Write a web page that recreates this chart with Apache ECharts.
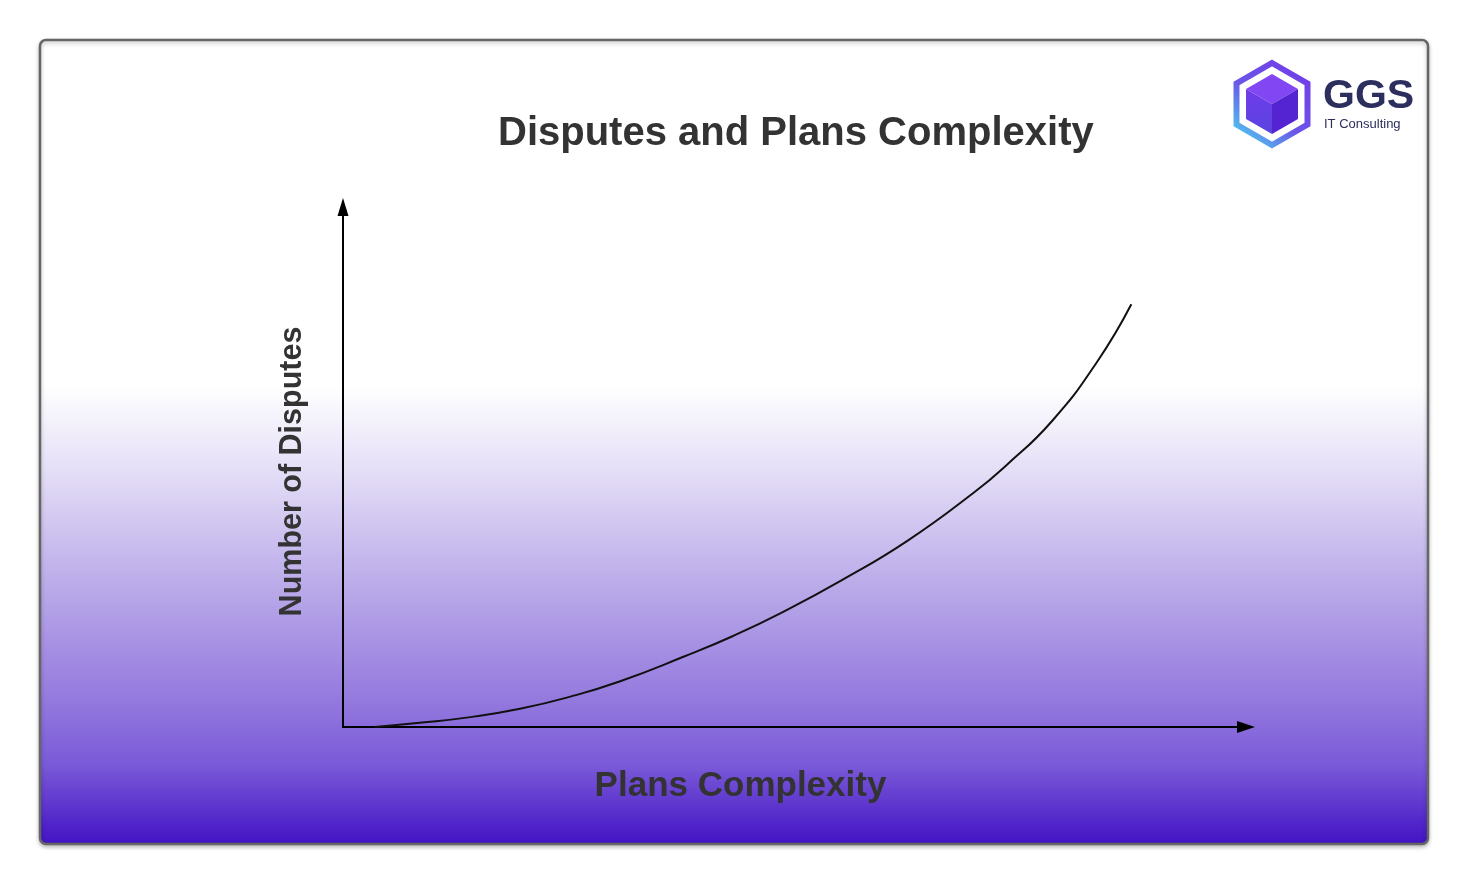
<!DOCTYPE html>
<html>
<head>
<meta charset="utf-8">
<script src="https://cdn.jsdelivr.net/npm/echarts@6/dist/echarts.min.js"></script>
<style>html,body{margin:0;padding:0;background:#fff}#c{width:1472px;height:883px}</style>
</head>
<body>
<div id="c"></div>
<script>
var titleText = 'Disputes and Plans Complexity';
var xAxisName = 'Plans Complexity';
var yAxisName = 'Number of Disputes';
var complexity = [3.5, 8.5, 14.1, 19.6, 25.1, 30.7, 37.7, 43.2, 48.7, 55.3, 62.5, 69.8, 73.5, 78.5, 83.5, 87.3];
var disputes   = [0, 0.8, 1.9, 3.5, 5.8, 8.8, 13.5, 17.5, 22.1, 28.3, 35.8, 45.0, 50.4, 58.8, 70.2, 81.3];
var logoMain = 'GGS';
var logoSub = 'IT Consulting';

var chart = echarts.init(document.getElementById('c'), null, {renderer: 'canvas'});
var pts = complexity.map(function (x, i) { return [x, disputes[i]]; });

function hex(cx, cy, r) {
  var p = [];
  for (var k = 0; k < 6; k++) {
    var a = (-90 + 60 * k) * Math.PI / 180;
    p.push([cx + r * Math.cos(a), cy + r * Math.sin(a)]);
  }
  return p;
}
var cx = 1272, cy = 104;
var h = hex(cx, cy, 30);
var c0 = [cx, cy];

chart.setOption({
  animation: false,
  title: {
    text: titleText,
    left: 493, top: 109,
    textStyle: {fontFamily: 'Liberation Sans, Arial, sans-serif', fontSize: 40, fontWeight: 'bold', color: '#333333'}
  },
  grid: {left: 343, right: 226, top: 207, bottom: 156},
  xAxis: {
    type: 'value', min: 0, max: 100,
    name: xAxisName, nameLocation: 'middle', nameGap: 42,
    nameTextStyle: {fontFamily: 'Liberation Sans, Arial, sans-serif', fontSize: 35, fontWeight: 'bold', color: '#333333', padding: [0, 108, 0, 0]},
    axisLine: {show: true, symbol: ['none', 'triangle'], symbolSize: [12, 18], lineStyle: {color: '#000', width: 2}},
    axisTick: {show: false}, axisLabel: {show: false}, splitLine: {show: false}
  },
  yAxis: {
    type: 'value', min: 0, max: 100,
    name: yAxisName, nameLocation: 'middle', nameGap: 35, nameRotate: 90,
    nameTextStyle: {fontFamily: 'Liberation Sans, Arial, sans-serif', fontSize: 30.5, fontWeight: 'bold', color: '#333333', padding: [0, 9, 0, 0]},
    axisLine: {show: true, onZero: false, symbol: ['none', 'triangle'], symbolSize: [11, 18], lineStyle: {color: '#000', width: 2}},
    axisTick: {show: false}, axisLabel: {show: false}, splitLine: {show: false}
  },
  series: [{
    type: 'line', data: pts, smooth: 0.5, showSymbol: false,
    lineStyle: {color: '#111', width: 2}, z: 5
  }],
  graphic: [
    {
      type: 'rect', z: -100,
      shape: {x: 40, y: 40, width: 1388, height: 804, r: 6},
      style: {
        fill: new echarts.graphic.LinearGradient(0, 0, 0, 1, [
          {offset: 0, color: '#ffffff'},
          {offset: 0.43, color: '#ffffff'},
          {offset: 0.53, color: '#e6e0f7'},
          {offset: 0.68, color: '#baaae9'},
          {offset: 0.82, color: '#9479de'},
          {offset: 0.9, color: '#7a5ad8'},
          {offset: 1, color: '#4212c4'}
        ]),
        stroke: '#666666', lineWidth: 2.5,
        shadowBlur: 4, shadowColor: 'rgba(0,0,0,0.25)', shadowOffsetY: 2
      }
    },
    {
      type: 'polygon', z: 10,
      shape: {points: hex(cx, cy, 41)},
      style: {
        fill: '#ffffff',
        stroke: new echarts.graphic.LinearGradient(1, 0, 0, 1, [
          {offset: 0, color: '#7438e6'},
          {offset: 0.55, color: '#6a56e8'},
          {offset: 1, color: '#48e6f0'}
        ]),
        lineWidth: 6
      }
    },
    {type: 'polygon', z: 11, shape: {points: [h[0], h[1], c0, h[5]]}, style: {fill: '#8247f2'}},
    {type: 'polygon', z: 11, shape: {points: [h[5], c0, h[3], h[4]]}, style: {
      fill: new echarts.graphic.LinearGradient(0, 0, 0, 1, [{offset: 0, color: '#6f3cea'}, {offset: 1, color: '#5a44e0'}])}},
    {type: 'polygon', z: 11, shape: {points: [c0, h[1], h[2], h[3]]}, style: {fill: '#5424d2'}},
    {
      type: 'text', z: 11, left: 1323, top: 76,
      style: {text: logoMain, font: 'bold 41px "Liberation Sans", Arial, sans-serif', fill: '#2c2e5e'}
    },
    {
      type: 'text', z: 11, left: 1324, top: 118,
      style: {text: logoSub, font: '13px "Liberation Sans", Arial, sans-serif', fill: '#2c2e5e'}
    }
  ]
});
</script>
</body>
</html>
